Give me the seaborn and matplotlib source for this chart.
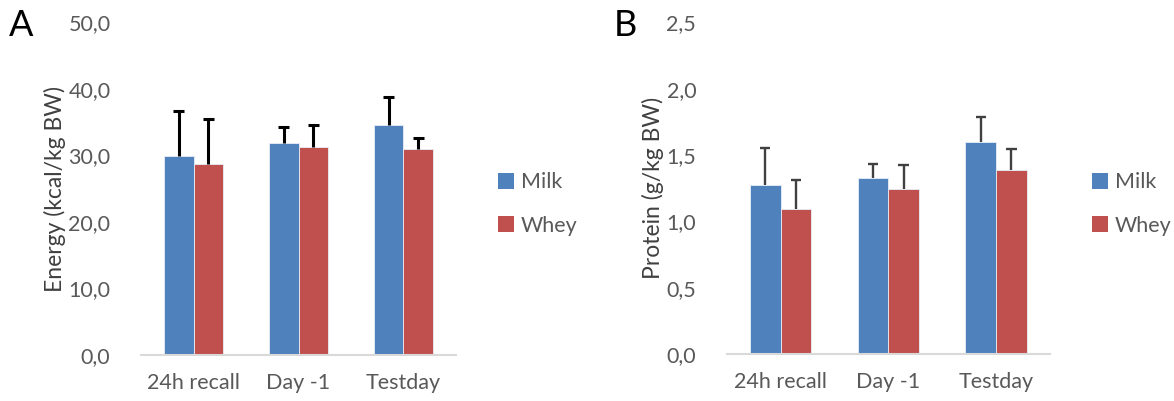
import matplotlib
matplotlib.use("Agg")
import matplotlib.pyplot as plt
import seaborn as sns
import pandas as pd
import numpy as np
from matplotlib.patches import Patch

categories = ["24h recall", "Day -1", "Testday"]
groups = ["Milk", "Whey"]

energy_milk = [29.9, 31.9, 34.5]
energy_whey = [28.7, 31.3, 31.0]
energy_milk_err = [6.8, 2.3, 4.3]
energy_whey_err = [6.8, 3.3, 1.6]

protein_milk = [1.27, 1.33, 1.595]
protein_whey = [1.095, 1.24, 1.387]
protein_milk_err = [0.28, 0.105, 0.195]
protein_whey_err = [0.215, 0.185, 0.16]

energy_ticks = [0, 10, 20, 30, 40, 50]
protein_ticks = [0, 0.5, 1.0, 1.5, 2.0, 2.5]

colors = {"Milk": "#4F81BD", "Whey": "#C0504D"}
text_col = "#595959"

sns.set_theme(style="white")
plt.rcParams["font.family"] = ["Lato", "DejaVu Sans"]

fig = plt.figure(figsize=(11.74, 4.01), dpi=100)
axA = fig.add_axes([141/1174, 1-355/401, 315/1174, 333/401])
axB = fig.add_axes([726.7/1174, 1-354/401, 323.3/1174, 331.7/401])


def panel(ax, milk, whey, merr, werr, ticks, ylabel, errcol, elw, letter, letter_x, fmt, legx):
    df = pd.DataFrame({
        "cat": categories * 2,
        "grp": ["Milk"] * 3 + ["Whey"] * 3,
        "val": list(milk) + list(whey),
        "err": list(merr) + list(werr),
    })
    sns.barplot(data=df, x="cat", y="val", hue="grp", order=categories,
                hue_order=groups, palette=colors, width=0.57, errorbar=None,
                saturation=1, ax=ax, edgecolor="#e8eef7", linewidth=0.6,
                legend=False)
    # upper-only error bars from bar patches
    bars = [p for p in ax.patches][:6]
    for p, v, e in zip(bars, df["val"], df["err"]):
        xc = p.get_x() + p.get_width() / 2
        cw = p.get_width() * 0.17
        ax.vlines(xc, v, v + e, colors=errcol, linewidth=elw, zorder=3)
        ax.hlines(v + e, xc - cw, xc + cw, colors=errcol, linewidth=elw, zorder=3)
    ax.set_ylim(ticks[0], ticks[-1])
    ax.set_xlim(-0.5, 2.5)
    ax.set_yticks(ticks)
    ax.set_yticklabels([fmt(t) for t in ticks], color=text_col, fontsize=15.5)
    ax.set_xticklabels(categories, color=text_col, fontsize=15.5)
    ax.tick_params(axis="y", length=0, pad=22)
    ax.tick_params(axis="x", length=0, pad=13)
    ax.set_xlabel("")
    ax.set_ylabel(ylabel, color="#404040", fontsize=16.5, labelpad=2)
    for s in ["top", "right", "left"]:
        ax.spines[s].set_visible(False)
    ax.spines["bottom"].set_color("#d9d9d9")
    ax.spines["bottom"].set_linewidth(1.5)
    ax.grid(False)
    handles = [Patch(facecolor=colors[g], edgecolor="none") for g in groups]
    fig.legend(handles, groups, loc="center left",
               bbox_to_anchor=(legx, 1 - 204/401), frameon=False,
               fontsize=15.5, labelcolor=text_col, handlelength=0.75,
               handleheight=0.75, handletextpad=0.3, labelspacing=1.1,
               borderpad=0, borderaxespad=0)
    fig.text(letter_x, 1 - 26/401, letter, fontsize=26, color="#000000",
             ha="left", va="center")


panel(axA, energy_milk, energy_whey, energy_milk_err, energy_whey_err,
      energy_ticks, "Energy (kcal/kg BW)", "#000000", 2.2, "A", 9/1174,
      lambda t: f"{t:.1f}".replace(".", ","), 498/1174)
panel(axB, protein_milk, protein_whey, protein_milk_err, protein_whey_err,
      protein_ticks, "Protein (g/kg BW)", "#404040", 1.7, "B", 614/1174,
      lambda t: f"{t:.1f}".replace(".", ","), 1092/1174)

fig.savefig("out.png", dpi=100)
